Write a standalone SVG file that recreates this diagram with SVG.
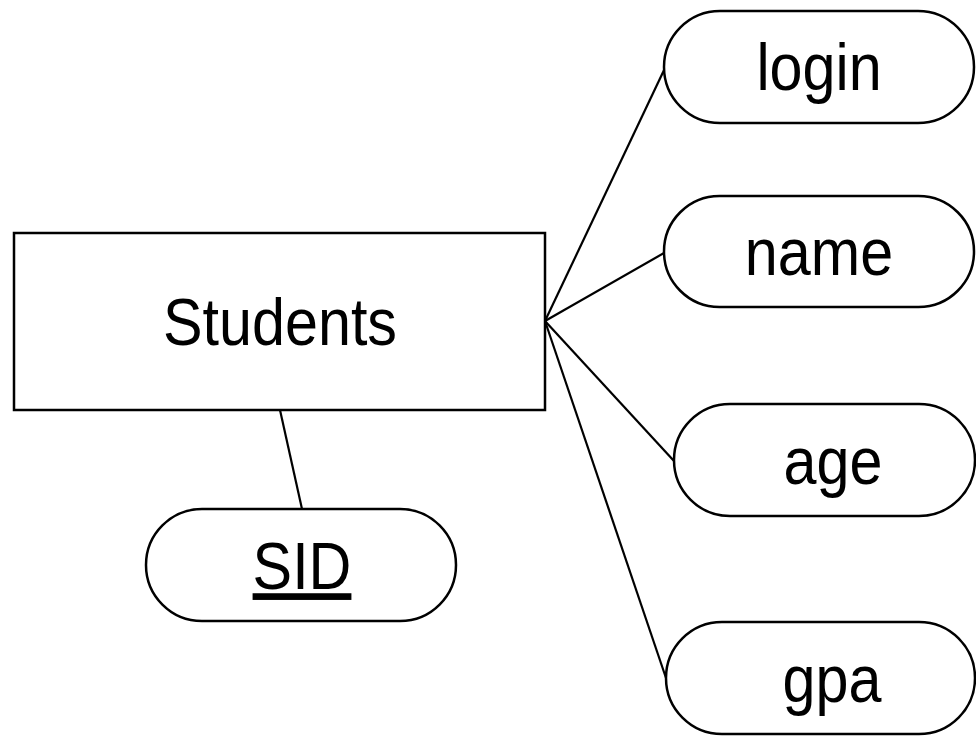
<svg xmlns="http://www.w3.org/2000/svg" width="976" height="736" viewBox="0 0 976 736">
<style>
.shape{fill:#fff;stroke:#000;stroke-width:2.5}
.lbl{font-family:"Liberation Sans",Arial,sans-serif;font-size:67px;fill:#000;text-anchor:middle}
.conn line{stroke:#000;stroke-width:2.2}
</style>
<rect width="976" height="736" fill="#fff"/>
<g class="conn">
<line x1="545" y1="321" x2="665" y2="68"/>
<line x1="545" y1="321" x2="664" y2="253"/>
<line x1="545" y1="321" x2="674" y2="461"/>
<line x1="545" y1="321" x2="666" y2="678"/>
<line x1="280" y1="410" x2="302" y2="509"/>
</g>
<g id="students">
<rect class="shape" x="14" y="233" width="531" height="177"/>
<text class="lbl" transform="translate(280 345) scale(0.885 1)">Students</text>
</g>
<g id="login">
<rect class="shape" x="664" y="11" width="310" height="112" rx="56" ry="56"/>
<text class="lbl" transform="translate(819 90) scale(0.885 1)">login</text>
</g>
<g id="name">
<rect class="shape" x="664" y="196" width="310" height="111" rx="55.5" ry="55.5"/>
<text class="lbl" transform="translate(819 275) scale(0.885 1)">name</text>
</g>
<g id="age">
<rect class="shape" x="674" y="404" width="301" height="112" rx="56" ry="56"/>
<text class="lbl" transform="translate(833 484) scale(0.885 1)">age</text>
</g>
<g id="gpa">
<rect class="shape" x="666" y="622" width="309" height="112" rx="56" ry="56"/>
<text class="lbl" transform="translate(832 702) scale(0.885 1)">gpa</text>
</g>
<g id="sid">
<rect class="shape" x="146" y="509" width="310" height="112" rx="56" ry="56"/>
<text class="lbl" transform="translate(302 589) scale(0.885 1)" text-decoration="underline">SID</text>
</g>
</svg>
